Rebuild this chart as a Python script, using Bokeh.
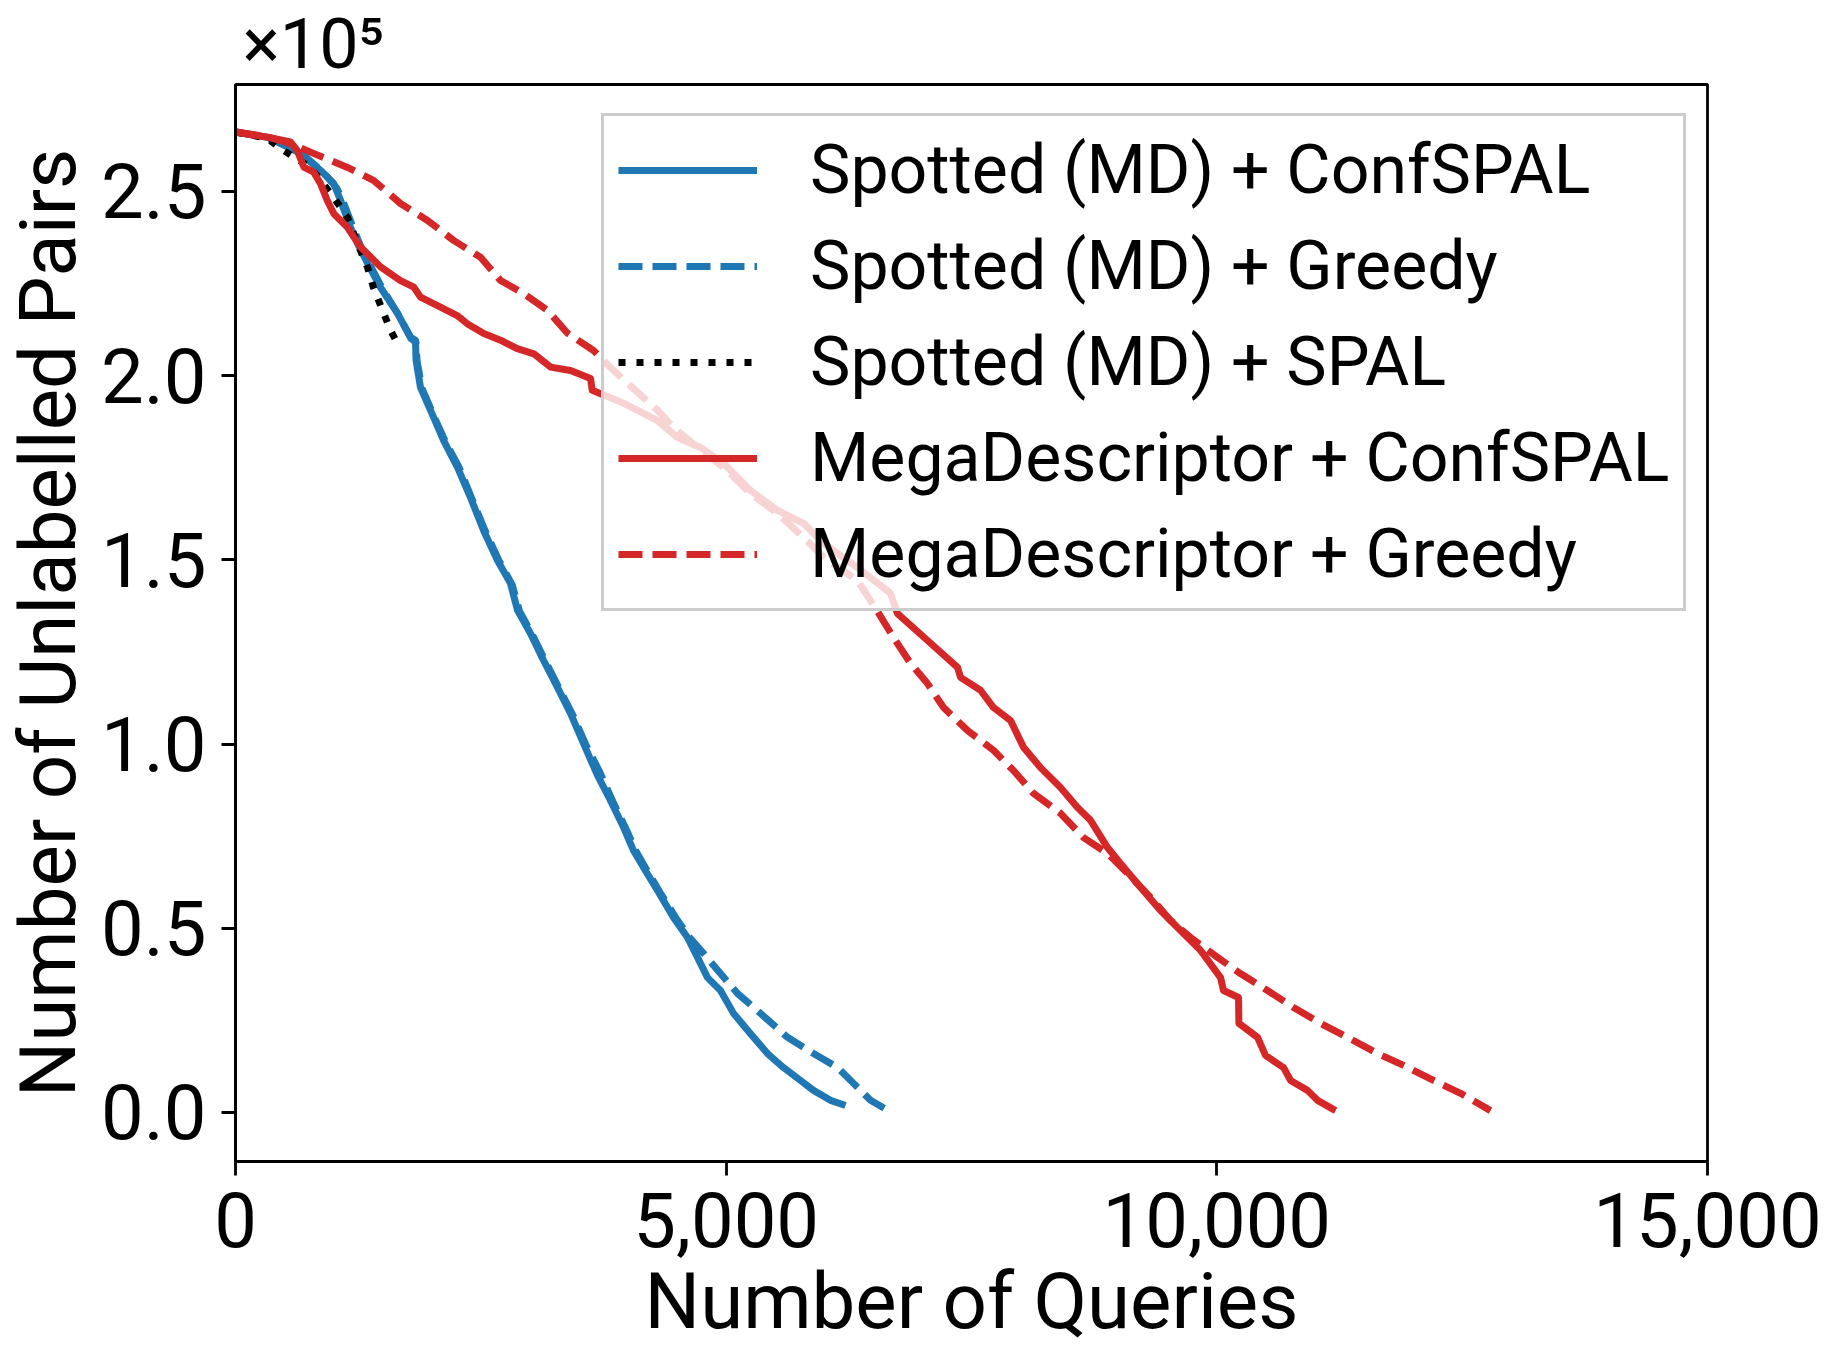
import math
from bokeh.plotting import figure
from bokeh.models import (Range1d, FixedTicker, NumeralTickFormatter, Legend,
                          LegendItem)
from bokeh.embed import file_html
from bokeh.resources import INLINE

# ---------------- data (values in units of 10^5 unlabelled pairs) ----------------
spotted_confspal_q = [0, 326, 662, 866, 999, 1070, 1172, 1243, 1345, 1478,
                      1651, 1783, 1834, 1840, 1885, 2018, 2120, 2262, 2395, 2527,
                      2670, 2802, 2874, 3006, 3139, 3281, 3414, 3546, 3689, 3821,
                      3954, 4056, 4158, 4300, 4463, 4606, 4708, 4810, 4942, 5075,
                      5248, 5421, 5584, 5758, 5890, 6063, 6216]
spotted_confspal_v = [2.661, 2.647, 2.603, 2.557, 2.522, 2.476, 2.402, 2.359, 2.305, 2.239,
                      2.169, 2.104, 2.096, 2.041, 1.968, 1.887, 1.824, 1.751, 1.669, 1.580,
                      1.498, 1.436, 1.363, 1.300, 1.227, 1.154, 1.083, 1.002, 0.915, 0.847,
                      0.774, 0.711, 0.665, 0.603, 0.529, 0.475, 0.421, 0.366, 0.331, 0.269,
                      0.214, 0.160, 0.122, 0.087, 0.060, 0.033, 0.019]

spotted_greedy_q = [0, 326, 560, 700, 900, 1030, 1100, 1200, 1270, 1370,
                    1500, 1660, 1790, 1840, 1850, 1900, 2030, 2140, 2280, 2410,
                    2545, 2690, 2820, 2895, 3025, 3160, 3300, 3435, 3570, 3710,
                    3845, 3975, 4080, 4180, 4320, 4490, 4630, 4769, 4942, 5116,
                    5350, 5625, 5890, 6135, 6298, 6471, 6654]
spotted_greedy_v = [2.661, 2.645, 2.625, 2.597, 2.550, 2.510, 2.470, 2.400, 2.355, 2.300,
                    2.235, 2.165, 2.100, 2.090, 2.040, 1.965, 1.885, 1.820, 1.750, 1.665,
                    1.578, 1.495, 1.432, 1.360, 1.297, 1.224, 1.150, 1.080, 0.998, 0.925,
                    0.844, 0.772, 0.710, 0.663, 0.600, 0.527, 0.474, 0.432, 0.377, 0.323,
                    0.269, 0.204, 0.160, 0.122, 0.079, 0.033, 0.005]

spotted_spal_q = [0, 326, 489, 764, 999, 1141, 1243, 1345, 1406, 1498, 1580, 1661]
spotted_spal_v = [2.661, 2.644, 2.611, 2.565, 2.484, 2.429, 2.359, 2.294, 2.239, 2.177, 2.123, 2.082]

mega_confspal_q = [0, 326, 560, 629, 696, 798, 866, 934, 1002, 1138,
                   1274, 1478, 1681, 1817, 1885, 2089, 2259, 2361, 2530, 2700,
                   2871, 3040, 3210, 3414, 3618, 3635, 3954, 4300, 4504, 4739,
                   4973, 5248, 5523, 5788, 5992, 6338, 6675, 6746, 7052, 7358,
                   7388, 7592, 7724, 7898, 8030, 8203, 8407, 8580, 8713, 8886,
                   9018, 9222, 9426, 9630, 9834, 10038, 10068, 10221, 10225, 10415,
                   10496, 10680, 10751, 10924, 11026, 11210]
mega_confspal_v = [2.661, 2.647, 2.634, 2.611, 2.566, 2.552, 2.521, 2.476, 2.439, 2.403,
                   2.349, 2.295, 2.258, 2.240, 2.213, 2.186, 2.163, 2.141, 2.114, 2.096,
                   2.073, 2.059, 2.023, 2.014, 1.992, 1.960, 1.925, 1.878, 1.832, 1.805,
                   1.762, 1.688, 1.634, 1.599, 1.545, 1.479, 1.409, 1.354, 1.281, 1.208,
                   1.181, 1.146, 1.099, 1.064, 0.991, 0.936, 0.882, 0.828, 0.793, 0.719,
                   0.676, 0.611, 0.548, 0.494, 0.440, 0.366, 0.331, 0.312, 0.242, 0.204,
                   0.155, 0.122, 0.087, 0.060, 0.033, 0.005]

mega_greedy_q = [0, 326, 560, 795, 1141, 1406, 1681, 1957, 2222, 2497,
                 2700, 2935, 3179, 3383, 3648, 3821, 3995, 4300, 4463, 4708,
                 4973, 5248, 5523, 5788, 5992, 6338, 6542, 6705, 6879, 7052,
                 7215, 7459, 7724, 7928, 8132, 8407, 8642, 8886, 9090, 9324,
                 9528, 9732, 10007, 10241, 10516, 10782, 11057, 11332, 11638, 11903,
                 12208, 12483, 12789]
mega_greedy_v = [2.661, 2.648, 2.630, 2.603, 2.565, 2.530, 2.467, 2.421, 2.367, 2.321,
                 2.258, 2.223, 2.177, 2.115, 2.068, 2.022, 1.979, 1.906, 1.859, 1.805,
                 1.751, 1.680, 1.626, 1.561, 1.507, 1.444, 1.360, 1.289, 1.219, 1.164,
                 1.099, 1.037, 0.983, 0.928, 0.866, 0.812, 0.746, 0.703, 0.649, 0.584,
                 0.521, 0.475, 0.421, 0.377, 0.331, 0.285, 0.242, 0.204, 0.160, 0.128,
                 0.087, 0.052, 0.005]

series_labels = ["Spotted (MD) + ConfSPAL", "Spotted (MD) + Greedy", "Spotted (MD) + SPAL",
                 "MegaDescriptor + ConfSPAL", "MegaDescriptor + Greedy"]
x_ticks = [0, 5000, 10000, 15000]
y_ticks = [0.0, 0.5, 1.0, 1.5, 2.0, 2.5]
x_title = "Number of Queries"
y_title = "Number of Unlabelled Pairs"
offset_text = "×10⁵"

# ---------------- figure ----------------
FONT = "Roboto"
BLUE = "#1f77b4"
RED = "#d62728"
LW = 7

p = figure(width=1826, height=1353, output_backend="svg", toolbar_location=None,
           x_range=Range1d(0, 15000), y_range=Range1d(-0.133, 2.790),
           min_border_left=235, min_border_right=119, min_border_top=84,
           min_border_bottom=192, background_fill_color="white",
           border_fill_color="white")

p.title.text = offset_text
p.title.align = "left"
p.title.offset = 7
p.title.standoff = 0
p.title.text_font = FONT
p.title.text_font_size = "70px"
p.title.text_font_style = "normal"
p.title.text_color = "black"

p.xgrid.visible = False
p.ygrid.visible = False
p.outline_line_color = "black"
p.outline_line_width = 2.8
p.outline_line_alpha = 1.0

for ax in (p.xaxis[0], p.yaxis[0]):
    ax.axis_line_width = 2.8
    ax.major_tick_line_width = 2.8
    ax.major_tick_out = 14
    ax.major_tick_in = 0
    ax.minor_tick_out = 0
    ax.minor_tick_in = 0
    ax.major_label_text_font = FONT
    ax.major_label_text_font_size = "76px"
    ax.major_label_text_color = "black"
    ax.axis_label_text_font = FONT
    ax.axis_label_text_font_size = "78px"
    ax.axis_label_text_font_style = "normal"
    ax.axis_label_text_color = "black"

p.xaxis.ticker = FixedTicker(ticks=x_ticks)
p.xaxis.formatter = NumeralTickFormatter(format="0,0")
p.xaxis.major_label_standoff = 17
p.xaxis.axis_label = x_title
p.xaxis.axis_label_standoff = 6

p.yaxis.ticker = FixedTicker(ticks=y_ticks)
p.yaxis.formatter = NumeralTickFormatter(format="0.0")
p.yaxis.major_label_standoff = 15
p.yaxis.axis_label = y_title
p.yaxis.axis_label_standoff = 4

r1 = p.line(spotted_confspal_q, spotted_confspal_v, line_color=BLUE, line_width=LW,
            line_join="round")
r2 = p.line(spotted_greedy_q, spotted_greedy_v, line_color=BLUE, line_width=LW,
            line_dash="24 10", line_join="round")
r3 = p.line(spotted_spal_q, spotted_spal_v, line_color="black", line_width=LW,
            line_dash="7 11", line_join="round")
r4 = p.line(mega_confspal_q, mega_confspal_v, line_color=RED, line_width=LW,
            line_join="round")
r5 = p.line(mega_greedy_q, mega_greedy_v, line_color=RED, line_width=LW,
            line_dash="24 10", line_join="round")

legend = Legend(items=[LegendItem(label=l, renderers=[r]) for l, r in
                       zip(series_labels, [r1, r2, r3, r4, r5])],
                location=(366, 550), margin=0, padding=14, spacing=16,
                glyph_width=139, glyph_height=80, label_height=80,
                label_standoff=53, label_text_font=FONT,
                label_text_font_size="68px", label_text_color="black",
                background_fill_color="white", background_fill_alpha=0.8,
                border_line_color="#cccccc", border_line_width=3,
                border_line_alpha=1.0)
p.add_layout(legend)

open("out.html", "w").write(file_html(p, INLINE))
